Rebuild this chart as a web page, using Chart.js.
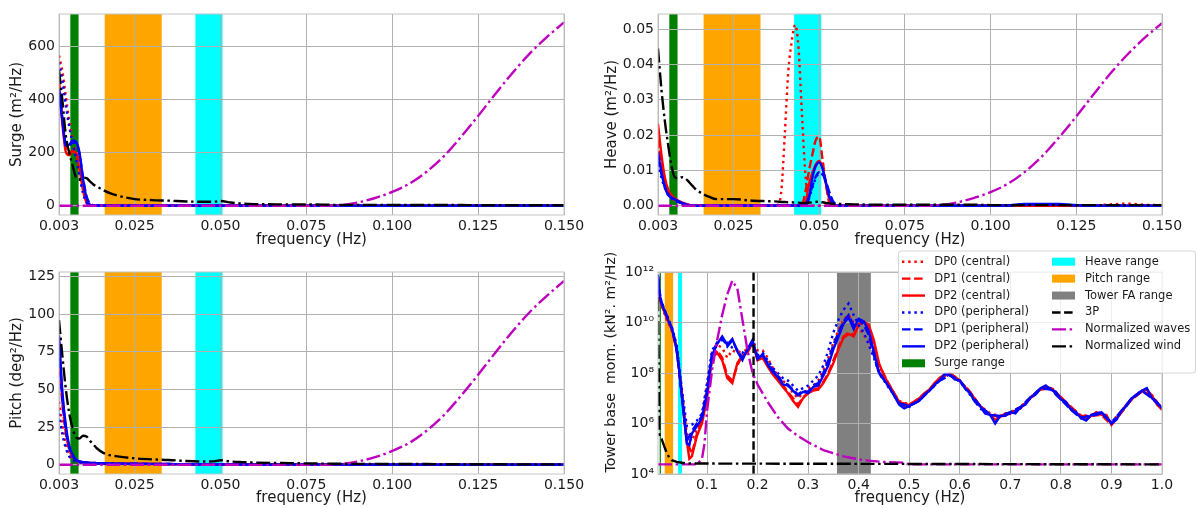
<!DOCTYPE html>
<html>
<head>
<meta charset="utf-8">
<script src="https://cdn.jsdelivr.net/npm/chart.js@4.4.1/dist/chart.umd.min.js"></script>
<style>
  body { margin: 0; background: #fff; }
  #wrap { position: relative; width: 1197px; height: 508px; }
  canvas { position: absolute; }
</style>
</head>
<body>
<div id="wrap">
  <canvas id="surge" width="590" height="250" style="left:0;top:0"></canvas>
  <canvas id="heave" width="607" height="250" style="left:590px;top:0"></canvas>
  <canvas id="pitch" width="590" height="258" style="left:0;top:250px"></canvas>
  <canvas id="tower" width="607" height="258" style="left:590px;top:250px"></canvas>
</div>
<script>
// ---- frequency grids (Hz) ----
const lowFreq = [0.003, 0.004, 0.005, 0.006, 0.007, 0.008, 0.009, 0.010, 0.011, 0.012,
  0.013, 0.014, 0.016, 0.018, 0.020, 0.025, 0.030, 0.035, 0.040, 0.045,
  0.048, 0.050, 0.053, 0.056, 0.060, 0.070, 0.080, 0.085, 0.090, 0.095,
  0.100, 0.105, 0.110, 0.115, 0.120, 0.125, 0.130, 0.135, 0.140, 0.145, 0.150];

const heaveFreq = [0.003, 0.004, 0.005, 0.006, 0.007, 0.008, 0.009, 0.010, 0.011, 0.012,
  0.013, 0.014, 0.016, 0.018, 0.020, 0.025, 0.030, 0.035, 0.038, 0.039,
  0.040, 0.041, 0.042, 0.043, 0.044, 0.045, 0.046, 0.047, 0.048, 0.049,
  0.050, 0.051, 0.052, 0.053, 0.054, 0.055, 0.056, 0.060, 0.070, 0.080,
  0.085, 0.090, 0.095, 0.100, 0.105, 0.110, 0.115, 0.120, 0.125, 0.130,
  0.135, 0.140, 0.145, 0.150];

const towerFreq = [0.003, 0.005, 0.007, 0.01, 0.015, 0.02, 0.025, 0.03, 0.035, 0.04,
  0.045, 0.05, 0.055, 0.06, 0.065, 0.07, 0.08, 0.09,
  0.10, 0.11, 0.12, 0.13, 0.14, 0.15, 0.16, 0.17, 0.18, 0.19,
  0.20, 0.21, 0.22, 0.23, 0.24, 0.25, 0.26, 0.27, 0.28, 0.29,
  0.30, 0.31, 0.32, 0.33, 0.34, 0.35, 0.36, 0.37, 0.38, 0.39,
  0.40, 0.41, 0.42, 0.43, 0.44, 0.45, 0.46, 0.47, 0.48, 0.49,
  0.50, 0.51, 0.52, 0.53, 0.54, 0.55, 0.56, 0.57, 0.58, 0.59,
  0.60, 0.61, 0.62, 0.63, 0.64, 0.65, 0.66, 0.67, 0.68, 0.69,
  0.70, 0.71, 0.72, 0.73, 0.74, 0.75, 0.76, 0.77, 0.78, 0.79,
  0.80, 0.81, 0.82, 0.83, 0.84, 0.85, 0.86, 0.87, 0.88, 0.89,
  0.90, 0.91, 0.92, 0.93, 0.94, 0.95, 0.96, 0.97, 0.98, 0.99,
  1.00];

const towerFreqB = [0.003, 0.005, 0.01, 0.02, 0.03, 0.04, 0.05, 0.06, 0.07, 0.08, 0.09,
  0.10, 0.11, 0.12, 0.13, 0.14, 0.15, 0.16, 0.17, 0.18, 0.19,
  0.20, 0.21, 0.22, 0.23, 0.24, 0.25, 0.26, 0.27, 0.28, 0.29,
  0.30, 0.31, 0.32, 0.33, 0.34, 0.35, 0.36, 0.37, 0.38, 0.39,
  0.40, 0.41, 0.42, 0.43, 0.44,
  0.46, 0.48, 0.50, 0.52, 0.54, 0.56, 0.58, 0.60, 0.62, 0.64,
  0.66, 0.68, 0.70, 0.72, 0.74, 0.76, 0.78, 0.80, 0.82, 0.84,
  0.86, 0.88, 0.90, 0.92, 0.94, 0.96, 0.98, 1.00];

const towerWaveFreq = [0.003, 0.08, 0.09, 0.095, 0.10, 0.105, 0.11, 0.12, 0.13, 0.14,
  0.15, 0.16, 0.17, 0.18, 0.19, 0.20, 0.22, 0.24, 0.26, 0.28,
  0.30, 0.33, 0.37, 0.41, 0.45, 0.49, 0.50, 1.0];
const towerWindFreq = [0.003, 0.004, 0.005, 0.006, 0.007, 0.01, 0.015, 0.02, 0.025, 0.03, 0.04, 0.06, 1.0];
const threePFreq = [0.192, 0.192];
const threePLevel = [1e4, 1e12];

// ---- range bands (Hz) ----
const surgeRange = [0.0063, 0.0087];
const pitchRange = [0.0163, 0.0329];
const heaveRange = [0.0427, 0.0506];
const towerFARange = [0.357, 0.424];

// ---- surge (m2/Hz) ----
const surgeDP0c = [566, 505, 410, 318, 250, 186, 124, 62, 20, 4,
  1, 0.5, 0.3, 0.2, 0.2, 0.1, 0.1, 0.1, 0.1, 0.1,
  0.1, 0.1, 0.1, 0.1, 0.1, 0.1, 0.1, 0.1, 0.1, 0.1,
  0.1, 0.1, 0.1, 0.1, 0.1, 0.1, 0.1, 0.1, 0.1, 0.1, 0.1];
const surgeDP1c = [470, 325, 215, 196, 208, 204, 148, 68, 16, 3,
  0.8, 0.4, 0.3, 0.2, 0.2, 0.1, 0.1, 0.1, 0.1, 0.1,
  0.1, 0.1, 0.1, 0.1, 0.1, 0.1, 0.1, 0.1, 0.1, 0.1,
  0.1, 0.1, 0.1, 0.1, 0.1, 0.1, 0.1, 0.1, 0.1, 0.1, 0.1];
const surgeDP2c = [455, 305, 202, 190, 204, 198, 135, 58, 12, 2,
  0.6, 0.3, 0.2, 0.2, 0.1, 0.1, 0.1, 0.1, 0.1, 0.1,
  0.1, 0.1, 0.1, 0.1, 0.1, 0.1, 0.1, 0.1, 0.1, 0.1,
  0.1, 0.1, 0.1, 0.1, 0.1, 0.1, 0.1, 0.1, 0.1, 0.1, 0.1];
const surgeDP0p = [540, 470, 378, 296, 236, 176, 110, 46, 12, 3,
  1, 0.5, 0.3, 0.2, 0.2, 0.1, 0.1, 0.1, 0.1, 0.1,
  0.1, 0.1, 0.1, 0.1, 0.1, 0.1, 0.1, 0.1, 0.1, 0.1,
  0.1, 0.1, 0.1, 0.1, 0.1, 0.1, 0.1, 0.1, 0.1, 0.1, 0.1];
const surgeDP1p = [440, 330, 232, 226, 240, 236, 192, 105, 36, 8,
  2, 0.8, 0.4, 0.3, 0.2, 0.1, 0.1, 0.1, 0.1, 0.1,
  0.1, 0.1, 0.1, 0.1, 0.1, 0.1, 0.1, 0.1, 0.1, 0.1,
  0.1, 0.1, 0.1, 0.1, 0.1, 0.1, 0.1, 0.1, 0.1, 0.1, 0.1];
const surgeDP2p = [430, 320, 226, 230, 246, 240, 197, 100, 30, 4,
  1, 0.5, 0.3, 0.2, 0.2, 0.1, 0.1, 0.1, 0.1, 0.1,
  0.1, 0.1, 0.1, 0.1, 0.1, 0.1, 0.1, 0.1, 0.1, 0.1,
  0.1, 0.1, 0.1, 0.1, 0.1, 0.1, 0.1, 0.1, 0.1, 0.1, 0.1];
const surgeWind = [510, 395, 262, 198, 150, 105, 98, 106, 104, 92,
  80, 72, 58, 46, 38, 25, 21, 19, 16, 15,
  15, 18, 12, 8, 6, 5, 4, 3, 3, 3,
  3, 2.5, 2.5, 2.5, 2.5, 2, 2, 2, 2, 2, 2];
const surgeWaves = [0, 0, 0, 0, 0, 0, 0, 0, 0, 0,
  0, 0, 0, 0, 0, 0, 0, 0, 0, 0,
  0, 0, 0, 0, 0, 0, 0, 2, 12, 29,
  52, 83, 128, 186, 259, 338, 421, 500, 573, 635, 690];

// ---- heave (m2/Hz) ----
const heaveDP0c = [0.017, 0.011, 0.0065, 0.004, 0.0025, 0.0015, 0.001, 0.0006, 0.0003, 0.0001,
  0.0001, 0, 0, 0, 0, 0, 0, 0, 0.0003, 0.0045,
  0.0205, 0.038, 0.0465, 0.0512, 0.0445, 0.0257, 0.0088, 0.0008, 0.0001, 0,
  0, 0, 0, 0, 0, 0, 0, 0, 0, 0,
  0, 0, 0, 0, 0, 0, 0, 0, 0, 0.0001,
  0.0004, 0.0006, 0.0003, 0.0002];
const heaveDP1c = [0.019, 0.012, 0.007, 0.0042, 0.0028, 0.0018, 0.0012, 0.0008, 0.0004, 0.0002,
  0.0001, 0, 0, 0, 0, 0, 0, 0, 0, 0,
  0, 0, 0, 0, 0, 0.0003, 0.004, 0.0097, 0.0144, 0.0186,
  0.0196, 0.013, 0.006, 0.0008, 0.0001, 0, 0, 0, 0, 0,
  0, 0, 0, 0, 0, 0, 0, 0, 0, 0,
  0, 0, 0, 0];
const heaveDP2c = [0.0232, 0.0145, 0.008, 0.0045, 0.003, 0.002, 0.0014, 0.001, 0.0006, 0.0003,
  0.0001, 0, 0, 0, 0, 0, 0, 0, 0, 0,
  0, 0, 0, 0, 0, 0.0001, 0.0008, 0.006, 0.0093, 0.0117,
  0.0127, 0.0108, 0.0062, 0.0017, 0.0002, 0, 0, 0, 0, 0,
  0, 0, 0, 0, 0, 0, 0, 0, 0, 0,
  0, 0, 0, 0];
const heaveDP0p = [0.012, 0.008, 0.005, 0.003, 0.002, 0.0014, 0.001, 0.0006, 0.0003, 0.0001,
  0, 0, 0, 0, 0, 0, 0, 0, 0, 0,
  0, 0, 0, 0, 0, 0, 0.0003, 0.002, 0.005, 0.0078,
  0.0092, 0.0088, 0.0065, 0.0035, 0.0012, 0.0002, 0, 0, 0, 0,
  0, 0, 0, 0, 0.0001, 0.0004, 0.0004, 0.0004, 0.0001, 0,
  0, 0, 0, 0];
const heaveDP1p = [0.0135, 0.009, 0.0055, 0.0033, 0.0022, 0.0016, 0.0011, 0.0007, 0.0004, 0.0002,
  0.0001, 0, 0, 0, 0, 0, 0, 0, 0, 0,
  0, 0, 0, 0, 0, 0, 0.0004, 0.0025, 0.0055, 0.0082,
  0.0095, 0.009, 0.0068, 0.0038, 0.0014, 0.0003, 0, 0, 0, 0,
  0, 0, 0, 0, 0.0001, 0.0003, 0.0004, 0.0003, 0.0001, 0,
  0, 0, 0, 0];
const heaveDP2p = [0.0152, 0.0095, 0.0052, 0.003, 0.0023, 0.0018, 0.0013, 0.0008, 0.0005, 0.0002,
  0.0001, 0, 0, 0, 0, 0, 0, 0, 0, 0,
  0, 0, 0, 0, 0, 0, 0.0002, 0.002, 0.0078, 0.0112,
  0.0123, 0.0105, 0.0065, 0.0025, 0.0006, 0.0001, 0, 0, 0, 0,
  0, 0, 0, 0, 0.0001, 0.0005, 0.0005, 0.0005, 0.0002, 0,
  0, 0, 0, 0];
const heaveWind = [0.0445, 0.033, 0.024, 0.017, 0.011, 0.008, 0.0078, 0.0081, 0.0077, 0.0068,
  0.0057, 0.0047, 0.0034, 0.0025, 0.0019, 0.0019, 0.0015, 0.0013, 0.0012, 0.0011,
  0.0011, 0.001, 0.001, 0.0009, 0.0009, 0.0008, 0.0008, 0.0009, 0.001, 0.0011,
  0.0012, 0.001, 0.0008, 0.0007, 0.0006, 0.0005, 0.0005, 0.0004, 0.0003, 0.0003,
  0.0003, 0.0003, 0.0003, 0.0002, 0.0002, 0.0002, 0.0002, 0.0002, 0.0002, 0.0002,
  0.0002, 0.0002, 0.0002, 0.0002];
const heaveWaves = [0, 0, 0, 0, 0, 0, 0, 0, 0, 0,
  0, 0, 0, 0, 0, 0, 0, 0, 0, 0,
  0, 0, 0, 0, 0, 0, 0, 0, 0, 0,
  0, 0, 0, 0, 0, 0, 0, 0, 0, 0,
  0.0002, 0.0009, 0.0022, 0.0039, 0.0062, 0.0096, 0.014, 0.0194, 0.0253, 0.0315,
  0.0375, 0.0429, 0.0476, 0.0517];

// ---- pitch (deg2/Hz) ----
const pitchDP0c = [42, 26, 14, 7, 4, 2.5, 1.8, 1.4, 1.2, 1.0,
  0.9, 0.8, 0.7, 0.6, 0.6, 0.5, 0.4, 0.3, 0.3, 0.3,
  0.2, 0.2, 0.2, 0.2, 0.2, 0.1, 0.1, 0.1, 0.1, 0.1,
  0.1, 0.1, 0.1, 0.1, 0.1, 0.1, 0.1, 0.1, 0.1, 0.1, 0.1];
const pitchDP1c = [72, 40, 21, 10, 5.3, 2.9, 2.0, 1.6, 1.4, 1.2,
  1.1, 1.0, 0.9, 0.8, 0.7, 0.6, 0.5, 0.4, 0.4, 0.3,
  0.3, 0.3, 0.3, 0.2, 0.2, 0.2, 0.1, 0.1, 0.1, 0.1,
  0.1, 0.1, 0.1, 0.1, 0.1, 0.1, 0.1, 0.1, 0.1, 0.1, 0.1];
const pitchDP2c = [82, 45, 24, 11.5, 6, 3.2, 2.1, 1.6, 1.4, 1.3,
  1.2, 1.1, 1.0, 0.9, 0.8, 0.7, 0.6, 0.5, 0.4, 0.4,
  0.3, 0.3, 0.3, 0.3, 0.2, 0.2, 0.2, 0.1, 0.1, 0.1,
  0.1, 0.1, 0.1, 0.1, 0.1, 0.1, 0.1, 0.1, 0.1, 0.1, 0.1];
const pitchDP0p = [34, 20, 11, 5.5, 3.2, 2.0, 1.5, 1.2, 1.0, 0.9,
  0.8, 0.7, 0.6, 0.5, 0.5, 0.4, 0.3, 0.3, 0.2, 0.2,
  0.2, 0.2, 0.1, 0.1, 0.1, 0.1, 0.1, 0.1, 0.1, 0.1,
  0.1, 0.1, 0.1, 0.1, 0.1, 0.1, 0.1, 0.1, 0.1, 0.1, 0.1];
const pitchDP1p = [78, 43, 23, 11, 5.8, 3.0, 2.1, 1.7, 1.5, 1.3,
  1.2, 1.1, 1.0, 0.9, 0.8, 0.7, 0.6, 0.5, 0.4, 0.4,
  0.3, 0.3, 0.3, 0.3, 0.2, 0.2, 0.2, 0.1, 0.1, 0.1,
  0.1, 0.1, 0.1, 0.1, 0.1, 0.1, 0.1, 0.1, 0.1, 0.1, 0.1];
const pitchDP2p = [86, 48, 26, 12.5, 6.6, 3.3, 2.2, 1.7, 1.5, 1.3,
  1.2, 1.1, 1.0, 0.9, 0.8, 0.7, 0.6, 0.5, 0.4, 0.4,
  0.3, 0.3, 0.3, 0.3, 0.2, 0.2, 0.2, 0.2, 0.1, 0.1,
  0.1, 0.1, 0.1, 0.1, 0.1, 0.1, 0.1, 0.1, 0.1, 0.1, 0.1];
const pitchWind = [96, 72, 50, 34, 24, 18, 17.5, 19.3, 18.8, 16,
  13.5, 11, 7.8, 6.3, 5.6, 4.3, 3.6, 3.2, 2.5, 2.2,
  2.3, 3.0, 2.2, 1.8, 1.5, 1.1, 0.8, 0.7, 0.6, 0.6,
  0.5, 0.5, 0.5, 0.4, 0.4, 0.4, 0.4, 0.3, 0.3, 0.3, 0.3];
const pitchWaves = [0, 0, 0, 0, 0, 0, 0, 0, 0, 0,
  0, 0, 0, 0, 0, 0, 0, 0, 0, 0,
  0, 0, 0, 0, 0, 0, 0, 0.4, 2.2, 5.1,
  9.2, 14.6, 22.6, 32.9, 45.8, 59.8, 74.4, 88.5, 101.3, 112.2, 122];

// ---- tower base moment (kN2.m2/Hz) ----
const towerDP2p = [7.9e11, 2.0e11, 1.0e11, 5.6e10, 3.2e10, 1.8e10, 1.0e10, 6.3e9, 2.8e9, 7.9e8,
  1.3e8, 1.3e7, 1.4e6, 1.6e5, 1.4e5, 4.0e5, 7.9e5, 1.6e6,
  1.6e7, 5.0e8, 1.4e9, 2.8e9, 1.3e9, 2.2e9, 7.1e8, 3.2e8, 8.9e8, 2.0e9,
  3.5e8, 5.6e8, 2.2e8, 1.1e8, 7.1e7, 3.5e7, 3.2e7, 2.0e7, 1.3e7, 1.8e7,
  1.6e7, 2.8e7, 3.2e7, 7.9e7, 2.0e8, 8.9e8, 2.8e9, 8.9e9, 1.6e10, 5.6e9,
  1.4e10, 1.1e10, 4.5e9, 7.1e8, 1.1e8, 5.6e7, 2.8e7, 1.3e7, 5.6e6, 4.0e6,
  5.0e6, 6.3e6, 7.9e6, 1.4e7, 2.0e7, 3.5e7, 5.0e7, 8.9e7, 8.9e7, 5.6e7,
  5.0e7, 2.5e7, 1.6e7, 7.1e6, 5.0e6, 2.5e6, 2.2e6, 1.0e6, 2.0e6, 2.0e6,
  2.8e6, 2.5e6, 4.5e6, 5.6e6, 1.1e7, 1.4e7, 2.5e7, 3.2e7, 2.2e7, 1.8e7,
  8.9e6, 7.1e6, 3.5e6, 2.8e6, 1.6e6, 1.3e6, 2.2e6, 2.2e6, 2.8e6, 1.8e6,
  1.0e6, 1.4e6, 3.2e6, 5.0e6, 1.0e7, 1.3e7, 2.0e7, 2.5e7, 1.0e7, 7.1e6,
  4.0e6];
const towerDP2c = [6.3e11, 1.6e11, 7.9e10, 5.0e10, 2.8e10, 1.6e10, 8.9e9, 5.6e9, 2.5e9, 7.9e8,
  1.3e8, 1.4e7, 1.6e6, 2.0e5, 4.0e4, 5.0e4, 3.2e5, 1.0e6,
  1.0e7, 4.0e8, 6.3e8, 3.2e8, 6.3e7, 4.0e7, 2.5e8, 5.0e8, 6.3e8, 1.6e9,
  3.2e8, 4.0e8, 1.8e8, 8.9e7, 5.0e7, 2.8e7, 1.6e7, 7.9e6, 4.5e6, 1.0e7,
  1.6e7, 2.0e7, 2.2e7, 4.0e7, 8.9e7, 2.5e8, 8.9e8, 2.5e9, 3.5e9, 2.8e9,
  7.9e9, 1.1e10, 7.9e9, 2.0e9, 2.5e8, 7.9e7, 3.5e7, 1.6e7, 7.1e6, 5.0e6,
  5.6e6, 7.1e6, 1.0e7, 1.6e7, 2.2e7, 4.0e7, 6.3e7, 8.9e7, 1.0e8, 7.1e7,
  5.0e7, 2.8e7, 1.8e7, 8.9e6, 5.0e6, 3.2e6, 2.2e6, 1.4e6, 1.8e6, 2.5e6,
  2.5e6, 3.2e6, 4.0e6, 6.3e6, 1.0e7, 1.6e7, 2.2e7, 2.8e7, 2.5e7, 1.6e7,
  1.1e7, 6.3e6, 4.5e6, 2.5e6, 2.0e6, 1.4e6, 2.0e6, 2.8e6, 2.2e6, 2.2e6,
  8.9e5, 1.6e6, 2.8e6, 5.6e6, 8.9e6, 1.4e7, 1.8e7, 2.2e7, 1.3e7, 5.6e6,
  3.5e6];
const towerDP0p = [5.0e11, 2.0e11, 6.3e10, 2.0e10, 7.1e9, 1.3e9, 2.5e7, 7.9e5, 8.9e5, 1.3e6, 2.5e6,
  4.0e7, 7.9e8, 1.6e9, 2.0e9, 1.6e9, 1.0e9, 7.9e8, 6.3e8, 1.0e9, 1.3e9,
  5.0e8, 6.3e8, 3.2e8, 1.6e8, 1.0e8, 6.3e7, 5.0e7, 3.2e7, 2.0e7, 2.5e7,
  3.2e7, 5.0e7, 7.9e7, 2.0e8, 7.9e8, 4.0e9, 1.3e10, 3.2e10, 5.6e10, 2.0e10,
  7.9e9, 4.0e9, 1.3e9, 4.0e8, 1.0e8,
  2.5e7, 6.3e6, 4.5e6, 8.9e6, 2.0e7, 5.0e7, 8.9e7, 4.5e7, 1.4e7, 4.0e6,
  2.2e6, 1.8e6, 2.5e6, 4.0e6, 1.0e7, 2.5e7, 2.5e7, 1.0e7, 4.0e6, 1.8e6,
  2.0e6, 2.5e6, 1.1e6, 3.2e6, 1.0e7, 2.0e7, 1.1e7, 4.0e6];
const towerDP1p = [7.1e11, 2.2e11, 6.3e10, 2.0e10, 6.3e9, 8.9e8, 1.6e7, 2.0e5, 5.0e5, 1.0e6, 2.0e6,
  2.0e7, 6.3e8, 1.6e9, 2.5e9, 1.1e9, 2.0e9, 7.9e8, 4.0e8, 7.9e8, 1.8e9,
  4.0e8, 5.0e8, 2.5e8, 1.3e8, 7.9e7, 4.0e7, 3.5e7, 2.2e7, 1.4e7, 2.0e7,
  1.8e7, 3.2e7, 4.0e7, 1.0e8, 3.2e8, 1.3e9, 4.0e9, 1.1e10, 2.0e10, 7.9e9,
  1.3e10, 7.9e9, 3.2e9, 5.0e8, 1.0e8,
  2.8e7, 6.3e6, 5.0e6, 7.9e6, 2.0e7, 5.0e7, 7.9e7, 5.0e7, 1.6e7, 5.0e6,
  2.2e6, 2.0e6, 2.8e6, 4.5e6, 1.1e7, 2.5e7, 2.2e7, 8.9e6, 3.5e6, 1.6e6,
  2.2e6, 2.8e6, 1.0e6, 3.2e6, 1.0e7, 2.0e7, 1.0e7, 4.0e6];
const towerDP0c = [4.0e11, 1.6e11, 5.0e10, 1.3e10, 5.0e9, 1.0e9, 2.0e7, 4.0e5, 2.0e5, 6.3e5, 2.0e6,
  3.2e7, 6.3e8, 1.3e9, 1.0e9, 4.0e8, 7.9e8, 6.3e8, 7.9e8, 7.9e8, 2.0e9,
  7.9e8, 7.9e8, 4.0e8, 1.6e8, 7.9e7, 5.0e7, 3.2e7, 1.6e7, 1.0e7, 1.6e7,
  2.5e7, 3.2e7, 5.0e7, 1.3e8, 4.0e8, 1.6e9, 5.0e9, 1.3e10, 2.0e10, 1.0e10,
  6.3e9, 3.2e9, 1.6e9, 5.0e8, 1.6e8,
  3.2e7, 7.9e6, 5.6e6, 1.0e7, 2.2e7, 5.6e7, 1.0e8, 5.0e7, 1.8e7, 5.0e6,
  2.5e6, 2.0e6, 2.8e6, 4.5e6, 1.1e7, 2.5e7, 2.8e7, 1.1e7, 4.5e6, 2.0e6,
  2.2e6, 2.8e6, 1.1e6, 3.2e6, 1.0e7, 2.0e7, 1.3e7, 4.0e6];
const towerDP1c = [5.6e11, 1.8e11, 5.0e10, 1.6e10, 5.6e9, 7.9e8, 1.4e7, 2.0e5, 6.3e4, 4.0e5, 1.3e6,
  1.3e7, 4.0e8, 7.9e8, 4.0e8, 7.9e7, 5.0e7, 2.0e8, 5.0e8, 7.1e8, 1.6e9,
  3.5e8, 5.0e8, 2.0e8, 1.0e8, 5.6e7, 3.2e7, 1.8e7, 1.0e7, 5.6e6, 1.1e7,
  1.6e7, 2.2e7, 2.5e7, 4.5e7, 1.0e8, 3.2e8, 1.0e9, 2.8e9, 4.0e9, 3.2e9,
  8.9e9, 1.0e10, 7.1e9, 1.6e9, 2.2e8,
  3.5e7, 7.1e6, 5.6e6, 1.0e7, 2.2e7, 6.3e7, 1.0e8, 5.0e7, 1.8e7, 5.0e6,
  2.2e6, 1.8e6, 2.5e6, 4.0e6, 1.0e7, 2.2e7, 2.5e7, 1.1e7, 4.5e6, 2.0e6,
  2.0e6, 2.2e6, 8.9e5, 2.8e6, 8.9e6, 1.8e7, 1.3e7, 3.5e6];
const towerWaves = [2.4e4, 2.4e4, 4.0e4, 1.6e5, 3.2e6, 2.0e7, 1.3e8, 2.0e9, 2.0e10, 1.3e11,
  4.5e11, 2.2e11, 1.3e10, 7.9e8, 1.0e8, 3.5e7, 7.1e6, 1.8e6, 6.3e5, 3.2e5,
  1.8e5, 8.9e4, 5.0e4, 3.5e4, 3.0e4, 2.8e4, 2.4e4, 2.4e4];
const towerWind = [1.0e11, 1.0e9, 1.0e7, 4.0e5, 2.8e5, 2.5e5, 1.3e5, 7.1e4, 4.5e4, 3.5e4, 3.0e4, 2.6e4, 2.4e4];

// ---- ticks ----
const lowFreqTicks = [0.003, 0.025, 0.05, 0.075, 0.1, 0.125, 0.15];
const towerFreqTicks = [0.1, 0.2, 0.3, 0.4, 0.5, 0.6, 0.7, 0.8, 0.9, 1.0];
const surgeTicks = [0, 200, 400, 600];
const heaveTicks = [0, 0.01, 0.02, 0.03, 0.04, 0.05];
const pitchTicks = [0, 25, 50, 75, 100, 125];
const towerTicks = [1e4, 1e6, 1e8, 1e10, 1e12];
const towerTickLabels = ['10⁴', '10⁶', '10⁸', '10¹⁰', '10¹²'];

const seriesLabels = ['DP0 (central)', 'DP1 (central)', 'DP2 (central)',
  'DP0 (peripheral)', 'DP1 (peripheral)', 'DP2 (peripheral)'];
const bandLabels = ['Surge range', 'Heave range', 'Pitch range', 'Tower FA range'];

// ---- styles ----
const FONT = 'DejaVu Sans';
const INK = '#1a1a1a';
const GRID = '#b0b0b0';
const RED = '#ff0000', BLUE = '#0000ff', MAG = '#bf00bf', BLACK = '#000000';
const GREEN = '#008000', ORANGE = '#ffa500', CYAN = '#00ffff', GREY = '#808080';
const LW = 2.4;
const DOT = [2.4, 3.8], DASH = [8.5, 3.6], DASHDOT = [14, 3.6, 2.5, 3.6];
const dpStyles = [
  { c: RED, d: DOT }, { c: RED, d: DASH }, { c: RED, d: [] },
  { c: BLUE, d: DOT }, { c: BLUE, d: DASH }, { c: BLUE, d: [] }
];

Chart.defaults.font.family = FONT;

function pts(xs, ys) { return xs.map((x, i) => ({ x: x, y: ys[i] })); }

function line(label, xs, ys, color, dash, smooth) {
  return {
    label: label, data: pts(xs, ys), borderColor: color, backgroundColor: color,
    borderDash: dash, borderWidth: LW, pointRadius: 0, fill: false,
    cubicInterpolationMode: smooth ? 'monotone' : 'default', tension: 0
  };
}

function withOrder(sets) {
  sets.forEach((s, i) => { s.order = sets.length - i; });
  return sets;
}

function lowSets(xs, dp, wind, waves) {
  const sets = dp.map((ys, i) => line(seriesLabels[i], xs, ys, dpStyles[i].c, dpStyles[i].d, true));
  sets.push(line('Normalized waves', xs, waves, MAG, DASHDOT, true));
  sets.push(line('Normalized wind', xs, wind, BLACK, DASHDOT, true));
  return withOrder(sets);
}

function bandsPlugin(bands) {
  return {
    id: 'bands',
    beforeDraw(chart) {
      const { ctx, chartArea: a, scales: { x } } = chart;
      ctx.save();
      ctx.beginPath(); ctx.rect(a.left, a.top, a.width, a.height); ctx.clip();
      bands.forEach(b => {
        const x0 = x.getPixelForValue(b.range[0]);
        const x1 = x.getPixelForValue(b.range[1]);
        ctx.fillStyle = b.color;
        ctx.fillRect(x0, a.top, Math.max(x1 - x0, 1), a.height);
      });
      ctx.restore();
    }
  };
}

const framePlugin = {
  id: 'frame',
  afterDatasetsDraw(chart) {
    const { ctx, chartArea: a } = chart;
    ctx.save();
    ctx.strokeStyle = '#c4c4c4';
    ctx.lineWidth = 1;
    ctx.strokeRect(a.left, a.top, a.width, a.height);
    ctx.restore();
  }
};

function axes(o) {
  const tickFont = { family: FONT, size: 14 };
  const titleFont = { family: FONT, size: 15 };
  return {
    x: {
      type: 'linear', min: o.xMin, max: o.xMax,
      afterBuildTicks: s => { s.ticks = o.xTicks.map(v => ({ value: v })); },
      afterFit: s => { s.height = o.xHeight; },
      ticks: { font: tickFont, color: INK, padding: 3, maxRotation: 0, autoSkip: false, callback: o.xFmt },
      grid: { color: GRID, lineWidth: 1, drawTicks: false },
      border: { display: false },
      title: { display: true, text: 'frequency (Hz)', font: titleFont, color: INK, padding: { top: 0, bottom: 1 } }
    },
    y: {
      type: o.yType || 'linear', min: o.yMin, max: o.yMax,
      afterBuildTicks: s => { s.ticks = o.yTicks.map(v => ({ value: v })); },
      afterFit: s => { s.width = o.yWidth; },
      ticks: { font: tickFont, color: INK, padding: 4, autoSkip: false, callback: o.yFmt },
      grid: { color: GRID, lineWidth: 1, drawTicks: false },
      border: { display: false },
      title: o.yTitle
        ? { display: true, text: o.yTitle, font: titleFont, color: INK, padding: { top: o.yTitlePad, bottom: 0 } }
        : { display: false }
    }
  };
}

function makeChart(id, datasets, o, extraPlugins) {
  return new Chart(document.getElementById(id), {
    type: 'line',
    data: { datasets: datasets },
    options: {
      responsive: false, animation: false, devicePixelRatio: 1,
      layout: { padding: o.padding },
      plugins: { legend: { display: false }, tooltip: { enabled: false } },
      scales: axes(o)
    },
    plugins: [bandsPlugin(o.bands), framePlugin].concat(extraPlugins || [])
  });
}

const lowBands = [
  { range: surgeRange, color: GREEN },
  { range: pitchRange, color: ORANGE },
  { range: heaveRange, color: CYAN }
];
const fmt3 = v => v.toFixed(3);

// Surge
makeChart('surge',
  lowSets(lowFreq, [surgeDP0c, surgeDP1c, surgeDP2c, surgeDP0p, surgeDP1p, surgeDP2p], surgeWind, surgeWaves),
  {
    xMin: 0.003, xMax: 0.15, xTicks: lowFreqTicks, xFmt: fmt3, xHeight: 35,
    yMin: -35, yMax: 722, yTicks: surgeTicks, yFmt: v => String(v), yWidth: 59,
    yTitle: 'Surge (m²/Hz)', yTitlePad: 8,
    padding: { left: 0, top: 14, right: 26, bottom: 0 }, bands: lowBands
  });

// Heave
makeChart('heave',
  lowSets(heaveFreq, [heaveDP0c, heaveDP1c, heaveDP2c, heaveDP0p, heaveDP1p, heaveDP2p], heaveWind, heaveWaves),
  {
    xMin: 0.003, xMax: 0.15, xTicks: lowFreqTicks, xFmt: fmt3, xHeight: 35,
    yMin: -0.0026, yMax: 0.0543, yTicks: heaveTicks, yFmt: v => v.toFixed(2), yWidth: 68,
    yTitle: 'Heave (m²/Hz)', yTitlePad: 13,
    padding: { left: 0, top: 14, right: 35, bottom: 0 }, bands: lowBands
  });

// Pitch
makeChart('pitch',
  lowSets(lowFreq, [pitchDP0c, pitchDP1c, pitchDP2c, pitchDP0p, pitchDP1p, pitchDP2p], pitchWind, pitchWaves),
  {
    xMin: 0.003, xMax: 0.15, xTicks: lowFreqTicks, xFmt: fmt3, xHeight: 34,
    yMin: -6.1, yMax: 128, yTicks: pitchTicks, yFmt: v => String(v), yWidth: 59,
    yTitle: 'Pitch (deg²/Hz)', yTitlePad: 8,
    padding: { left: 0, top: 22, right: 26, bottom: 0 }, bands: lowBands
  });

// Tower base moment
const towerSets = withOrder([
  line(seriesLabels[0], towerFreqB, towerDP0c, RED, DOT, false),
  line(seriesLabels[1], towerFreqB, towerDP1c, RED, DASH, false),
  line(seriesLabels[2], towerFreq, towerDP2c, RED, [], false),
  line(seriesLabels[3], towerFreqB, towerDP0p, BLUE, DOT, false),
  line(seriesLabels[4], towerFreqB, towerDP1p, BLUE, DASH, false),
  line(seriesLabels[5], towerFreq, towerDP2p, BLUE, [], false),
  line('3P', threePFreq, threePLevel, BLACK, DASH, false),
  line('Normalized waves', towerWaveFreq, towerWaves, MAG, DASHDOT, false),
  line('Normalized wind', towerWindFreq, towerWind, BLACK, DASHDOT, false)
]);

const legendItems = [
  { label: seriesLabels[0], line: dpStyles[0] },
  { label: seriesLabels[1], line: dpStyles[1] },
  { label: seriesLabels[2], line: dpStyles[2] },
  { label: seriesLabels[3], line: dpStyles[3] },
  { label: seriesLabels[4], line: dpStyles[4] },
  { label: seriesLabels[5], line: dpStyles[5] },
  { label: bandLabels[0], patch: GREEN },
  { label: bandLabels[1], patch: CYAN },
  { label: bandLabels[2], patch: ORANGE },
  { label: bandLabels[3], patch: GREY },
  { label: '3P', line: { c: BLACK, d: DASH } },
  { label: 'Normalized waves', line: { c: MAG, d: DASHDOT } },
  { label: 'Normalized wind', line: { c: BLACK, d: DASHDOT } }
];

const towerDecor = {
  id: 'towerDecor',
  afterDraw(chart) {
    const ctx = chart.ctx;
    const a = chart.chartArea;
    ctx.save();
    // y-axis title (drawn by hand so it is not squeezed to the axis height)
    ctx.translate(21.7, (a.top + a.bottom) / 2 - 11);
    ctx.rotate(-Math.PI / 2);
    ctx.font = '14.2px "' + FONT + '"';
    ctx.fillStyle = INK;
    ctx.textAlign = 'center';
    ctx.textBaseline = 'middle';
    ctx.fillText('Tower base  mom. (kN². m²/Hz)', 0, 0);
    ctx.restore();

    // legend
    ctx.save();
    const bx = 308.5, by = 1, bw = 297, bh = 122;
    ctx.fillStyle = 'rgba(255,255,255,0.8)';
    ctx.strokeStyle = '#d6d6d6';
    ctx.lineWidth = 1;
    ctx.beginPath();
    ctx.roundRect(bx, by, bw, bh, 3);
    ctx.fill();
    ctx.stroke();
    ctx.font = '11.5px "' + FONT + '"';
    ctx.textBaseline = 'middle';
    ctx.textAlign = 'left';
    legendItems.forEach((it, i) => {
      const col = i < 7 ? 0 : 1;
      const row = col ? i - 7 : i;
      const y = 11.7 + row * 16.93;
      const sx = col ? 462 : 312;
      const tx = col ? 495 : 344.3;
      if (it.patch) {
        ctx.fillStyle = it.patch;
        ctx.fillRect(sx, y - 4, 23, 8);
      } else {
        ctx.strokeStyle = it.line.c;
        ctx.lineWidth = LW;
        ctx.setLineDash(it.line.d);
        ctx.beginPath();
        ctx.moveTo(sx, y);
        ctx.lineTo(sx + 23, y);
        ctx.stroke();
        ctx.setLineDash([]);
      }
      ctx.fillStyle = INK;
      ctx.fillText(it.label, tx, y);
    });
    ctx.restore();
  }
};

makeChart('tower', towerSets,
  {
    xMin: 0.003, xMax: 1.0, xTicks: towerFreqTicks, xFmt: v => v.toFixed(1), xHeight: 34,
    yType: 'logarithmic', yMin: 1e4, yMax: 1e12, yTicks: towerTicks,
    yFmt: v => towerTickLabels[towerTicks.indexOf(v)], yWidth: 68,
    yTitle: null,
    padding: { left: 0, top: 22, right: 35, bottom: 0 },
    bands: [
      { range: surgeRange, color: GREEN },
      { range: pitchRange, color: ORANGE },
      { range: heaveRange, color: CYAN },
      { range: towerFARange, color: GREY }
    ]
  },
  [towerDecor]);
</script>
</body>
</html>
